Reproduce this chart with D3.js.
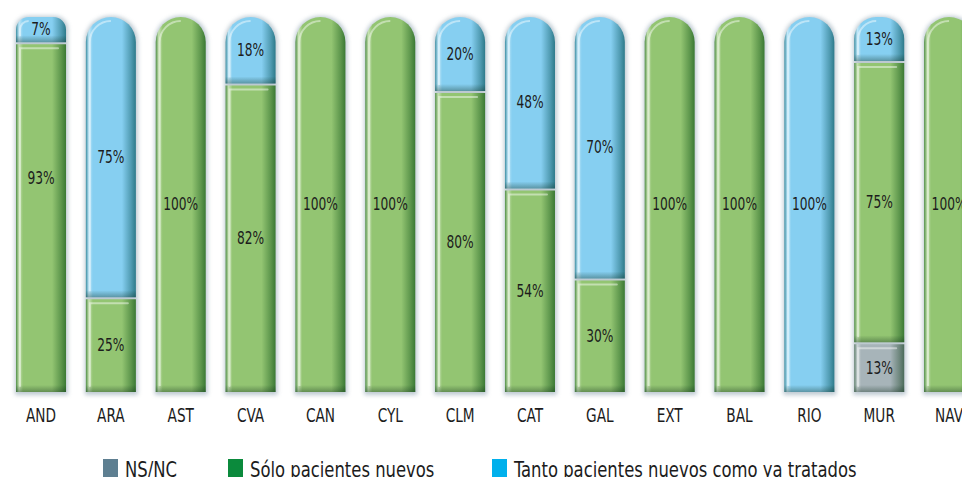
<!DOCTYPE html>
<html>
<head>
<meta charset="utf-8">
<script src="https://cdn.jsdelivr.net/npm/d3@7"></script>
<style>
  body { margin: 0; background: #fff; }
  svg text { font-family: "Liberation Sans Narrow", "DejaVu Sans Condensed", sans-serif; }
</style>
</head>
<body>
<div id="chart"></div>
<script>
// Chart size
const width = 962;
const height = 477;

// Data (percent of respondents per region)
const categories = ["AND", "ARA", "AST", "CVA", "CAN", "CYL", "CLM", "CAT", "GAL", "EXT", "BAL", "RIO", "MUR", "NAV"];
const nsnc       = [0, 0, 0, 0, 0, 0, 0, 0, 0, 0, 0, 0, 13, 0];
const soloNuevos = [93, 25, 100, 82, 100, 100, 80, 54, 30, 100, 100, 0, 75, 100];
const ambos      = [7, 75, 0, 18, 0, 0, 20, 48, 70, 0, 0, 100, 13, 0];
const seriesNames = ["NS/NC", "Sólo pacientes nuevos", "Tanto pacientes nuevos como ya tratados"];

// Styling
const legendColors = ["#5e7f91", "#0b8a3c", "#00b0ec"];
const palettes = [
    { edge: "#5b7b68", light: "#cbd4d6", base: "#a7b4b9", dark: "#4b6b59" },
    { edge: "#4f8e44", light: "#c6e1b2", base: "#93c572", dark: "#3a7934" },
    { edge: "#3a8da2", light: "#c0e7f8", base: "#86cff1", dark: "#2d7a8a" }
];
const labelNudge = { AND: -40 };
const legendX = [103, 228, 492];
const squeeze = 0.8; // the original uses a very narrow typeface

const svg = d3.select("#chart").append("svg")
    .attr("width", width)
    .attr("height", height);

const defs = svg.append("defs");

// Horizontal shading for each series
palettes.forEach((p, k) => {
    const grad = defs.append("linearGradient")
        .attr("id", `grad-${k}`)
        .attr("x1", 0).attr("x2", 1).attr("y1", 0).attr("y2", 0);
    [[0, p.edge], [0.06, p.light], [0.14, p.base], [0.72, p.base],
     [0.9, d3.interpolateRgb(p.base, p.dark)(0.6)], [1, p.dark]]
        .forEach(([o, c]) => grad.append("stop").attr("offset", o).attr("stop-color", c));
});

const shade = defs.append("linearGradient")
    .attr("id", "bottom-shade")
    .attr("x1", 0).attr("x2", 0).attr("y1", 0).attr("y2", 1);
shade.append("stop").attr("offset", 0).attr("stop-color", "#0b2a18").attr("stop-opacity", 0);
shade.append("stop").attr("offset", 1).attr("stop-color", "#0b2a18").attr("stop-opacity", 0.35);

defs.append("filter")
    .attr("id", "glow")
    .attr("x", "-30%").attr("y", "-10%").attr("width", "160%").attr("height", "120%")
    .append("feGaussianBlur")
    .attr("stdDeviation", 2.2);

// Scales
const x = d3.scaleBand()
    .domain(categories)
    .range([6.1, 6.1 + 14 * 69.85])
    .paddingInner(0.284)
    .paddingOuter(0.142);

const y = d3.scaleLinear()
    .domain([0, 100])
    .range([392, 17]);

// Build stacked segments, capped at 100%
const bars = categories.map((cat, i) => {
    const values = [nsnc[i], soloNuevos[i], ambos[i]];
    let cum = 0;
    const segs = [];
    values.forEach((v, k) => {
        const y0 = Math.min(cum, 100);
        const y1 = Math.min(cum + v, 100);
        cum += v;
        if (v > 0 && y1 > y0) segs.push({ cat, k, v, y0, y1 });
    });
    segs.forEach((s, j) => {
        s.isBottom = j === 0;
        s.isTop = j === segs.length - 1;
    });
    return { cat, segs };
});

function shapePath(x0, top, w, h, r) {
    if (r <= 0) return `M${x0},${top}h${w}v${h}h${-w}Z`;
    return `M${x0},${top + h}L${x0},${top + r}A${r},${r} 0 0 1 ${x0 + r},${top}` +
        `L${x0 + w - r},${top}A${r},${r} 0 0 1 ${x0 + w},${top + r}L${x0 + w},${top + h}Z`;
}

const bw = x.bandwidth();
const plot = svg.append("g");

bars.forEach(bar => {
    const bx = x(bar.cat);
    const topSeg = bar.segs[bar.segs.length - 1];
    const topY = y(topSeg.y1);
    const topH = y(topSeg.y0) - topY;
    const rTop = Math.min(bw / 2, topH / 2);

    // soft halo behind the whole bar
    plot.append("path")
        .attr("d", shapePath(bx - 1, topY - 1, bw + 3, y(0) - topY + 4, rTop))
        .attr("fill", "#a7b7c2")
        .attr("opacity", 0.75)
        .attr("filter", "url(#glow)");

    const g = plot.append("g");
    bar.segs.forEach(s => {
        const top = y(s.y1) + (s.isTop ? 0 : 1);
        const bottom = y(s.y0) - (s.isBottom ? 0 : 1);
        const h = bottom - top;
        const r = s.isTop ? Math.min(bw / 2, h / 2) : 0;

        g.append("path")
            .attr("d", shapePath(bx, top, bw, h, r))
            .attr("fill", `url(#grad-${s.k})`);

        // bottom inner shadow
        g.append("rect")
            .attr("x", bx).attr("y", bottom - 7)
            .attr("width", bw).attr("height", 7)
            .attr("fill", "url(#bottom-shade)");

        // highlights
        if (r > 0) {
            g.append("path")
                .attr("d", `M${bx + 4},${top + h - 6}L${bx + 4},${top + r}` +
                    `A${r - 4},${r - 4} 0 0 1 ${bx + r},${top + 4}`)
                .attr("fill", "none")
                .attr("stroke", "#fff")
                .attr("stroke-opacity", 0.45)
                .attr("stroke-width", 2);
        } else {
            g.append("path")
                .attr("d", `M${bx + 4},${bottom - 6}L${bx + 4},${top + 4}L${bx + bw - 8},${top + 4}`)
                .attr("fill", "none")
                .attr("stroke", "#fff")
                .attr("stroke-opacity", 0.45)
                .attr("stroke-width", 2)
                .attr("stroke-linecap", "round");
        }

        const ly = (top + bottom) / 2 + (s.k === 1 ? (labelNudge[s.cat] || 0) : 0);
        g.append("text")
            .attr("transform", `translate(${bx + bw / 2},${ly}) scale(${squeeze},1)`)
            .attr("text-anchor", "middle")
            .attr("dominant-baseline", "central")
            .attr("font-size", 17)
            .attr("fill", "#1c1c1c")
            .text(`${s.v}%`);
    });
});

// Category axis
const xAxisGroup = svg.append("g")
    .attr("transform", `translate(0, 406)`)
    .call(d3.axisBottom(x).tickSize(0).tickPadding(3));
xAxisGroup.select(".domain").remove();
xAxisGroup.attr("font-size", 19).attr("font-family", null);
xAxisGroup.selectAll("text")
    .attr("fill", "#1c1c1c")
    .attr("transform", `scale(${squeeze},1)`);

// Legend
const legend = svg.append("g");
seriesNames.forEach((name, k) => {
    legend.append("rect")
        .attr("x", legendX[k]).attr("y", 459)
        .attr("width", 15).attr("height", 20)
        .attr("fill", legendColors[k]);
    legend.append("text")
        .attr("transform", `translate(${legendX[k] + 22},477) scale(0.83,1)`)
        .attr("font-size", 22)
        .attr("fill", "#1c1c1c")
        .text(name);
});
</script>
</body>
</html>
